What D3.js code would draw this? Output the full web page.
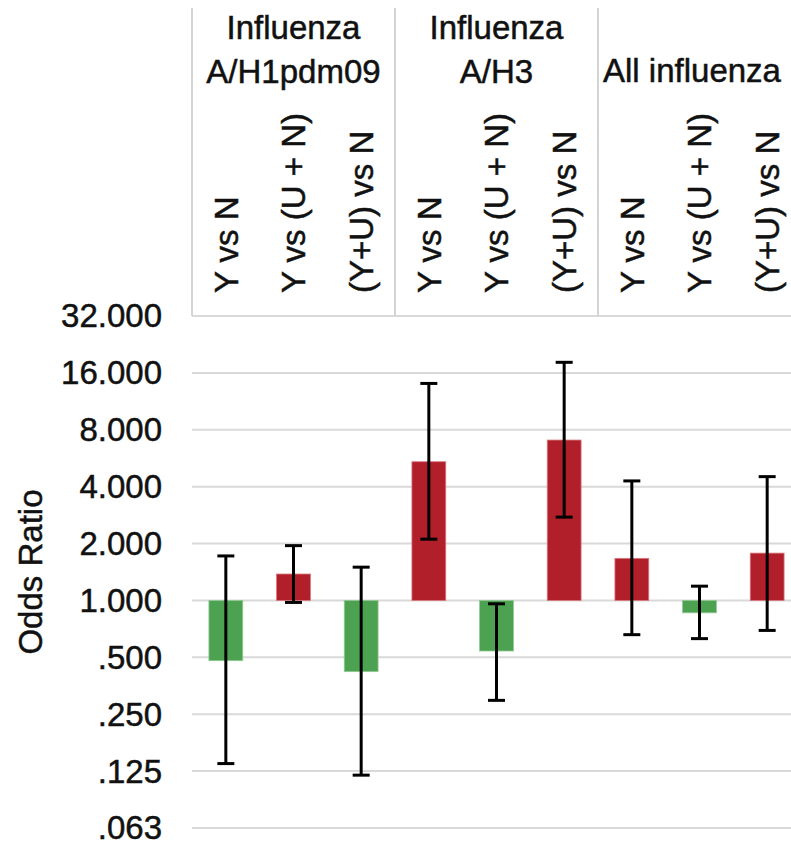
<!DOCTYPE html>
<html>
<head>
<meta charset="utf-8">
<script src="https://cdn.jsdelivr.net/npm/d3@7"></script>
<style>
  html, body { margin: 0; padding: 0; background: #fff; }
  svg { display: block; font-family: "Liberation Sans", Arial, sans-serif; }
  svg text { stroke: #111; stroke-width: 0.5px; }
</style>
</head>
<body>
<svg id="chart" width="791" height="843"></svg>
<script>
// ---- data ----
const groups = ["Influenza\nA/H1pdm09", "Influenza\nA/H3", "All influenza"];
const comparisons = ["Y vs N", "Y vs (U + N)", "(Y+U) vs N"];
const oddsRatio = [0.48, 1.38, 0.42, 5.42, 0.54, 7.06, 1.67, 0.86, 1.78];
const ciLower   = [0.137, 0.976, 0.119, 2.11, 0.296, 2.76, 0.659, 0.628, 0.694];
const ciUpper   = [1.72, 1.95, 1.50, 14.07, 0.96, 18.2, 4.29, 1.19, 4.52];
const tickValues = [0.0625, 0.125, 0.25, 0.5, 1, 2, 4, 8, 16, 32];
const tickLabels = [".063", ".125", ".250", ".500", "1.000", "2.000", "4.000", "8.000", "16.000", "32.000"];
const yTitle = "Odds Ratio";

(function () {
// ---- layout ----
const svg = d3.select("#chart");
const pLeft = 192, pRight = 801, pTop = 316, pBottom = 828, headTop = 8;
const fs = 33;
const red = "#B01F2A", green = "#4CA251", grid = "#d9d9d9";

const items = [];
groups.forEach((g, gi) => comparisons.forEach((c, ci) => {
  const i = gi * comparisons.length + ci;
  items.push({ id: i, group: g, gi, label: c, v: oddsRatio[i], lo: ciLower[i], hi: ciUpper[i] });
}));

const x = d3.scaleBand().domain(items.map(d => d.id)).range([pLeft, pRight])
  .paddingInner(0.5).paddingOuter(0.25);
const y = d3.scaleLog().base(2).domain([0.0625, 32]).range([pBottom, pTop]);
const gx = d3.scaleBand().domain(d3.range(groups.length)).range([pLeft, pRight]);

// gridlines
svg.append("g").selectAll("line").data(tickValues).join("line")
  .attr("x1", pLeft).attr("x2", 801)
  .attr("y1", d => y(d)).attr("y2", d => y(d))
  .attr("stroke", grid).attr("stroke-width", 2);

// y tick labels via axis
const yAxis = d3.axisLeft(y).tickValues(tickValues)
  .tickFormat((d, i) => tickLabels[i]).tickSize(0).tickPadding(0);
const ya = svg.append("g").attr("transform", "translate(162,0)").call(yAxis);
ya.select(".domain").remove();
ya.selectAll("text").attr("font-size", fs).attr("font-family", "Liberation Sans, Arial, sans-serif")
  .attr("fill", "#111").attr("dy", "0.33em");

// y title
svg.append("text").attr("transform", `translate(42,${(pTop + pBottom) / 2}) rotate(-90)`)
  .attr("text-anchor", "middle").attr("font-size", fs).attr("fill", "#111").text(yTitle);

// header separators
svg.append("g").selectAll("line").data(d3.range(groups.length)).join("line")
  .attr("x1", d => gx(d)).attr("x2", d => gx(d))
  .attr("y1", headTop).attr("y2", pTop)
  .attr("stroke", "#d4d4d4").attr("stroke-width", 2);

// group labels
const groupCenters = [gx(0) + gx.bandwidth() / 2, gx(1) + gx.bandwidth() / 2, 692];
groups.forEach((g, gi) => {
  const lines = g.split("\n");
  const t = svg.append("text").attr("text-anchor", "middle").attr("font-size", fs).attr("fill", "#111");
  const baseY = lines.length === 2 ? 39 : 82;
  lines.forEach((ln, li) => {
    t.append("tspan").attr("x", groupCenters[gi]).attr("y", baseY + li * 43.5).text(ln);
  });
});

// category labels (rotated)
svg.append("g").selectAll("text").data(items).join("text")
  .attr("transform", d => `translate(${x(d.id) + x.bandwidth() / 2},293) rotate(-90)`)
  .attr("dy", "0.36em").attr("font-size", fs).attr("fill", "#111")
  .text(d => d.label);

// bars
svg.append("g").selectAll("rect").data(items).join("rect")
  .attr("x", d => x(d.id)).attr("width", x.bandwidth())
  .attr("y", d => Math.min(y(d.v), y(1)))
  .attr("height", d => Math.abs(y(d.v) - y(1)))
  .attr("fill", d => d.v >= 1 ? red : green)
  .attr("stroke", d => d.v >= 1 ? "#d9777d" : "#93c996").attr("stroke-width", 0.8);

// error bars
const eb = svg.append("g").attr("stroke", "#000").attr("stroke-width", 3);
const cap = 17;
items.forEach(d => {
  const cx = x(d.id) + x.bandwidth() / 2;
  eb.append("line").attr("x1", cx).attr("x2", cx).attr("y1", y(d.hi)).attr("y2", y(d.lo));
  eb.append("line").attr("x1", cx - cap / 2).attr("x2", cx + cap / 2).attr("y1", y(d.hi)).attr("y2", y(d.hi));
  eb.append("line").attr("x1", cx - cap / 2).attr("x2", cx + cap / 2).attr("y1", y(d.lo)).attr("y2", y(d.lo));
});
})();
</script>
</body>
</html>
